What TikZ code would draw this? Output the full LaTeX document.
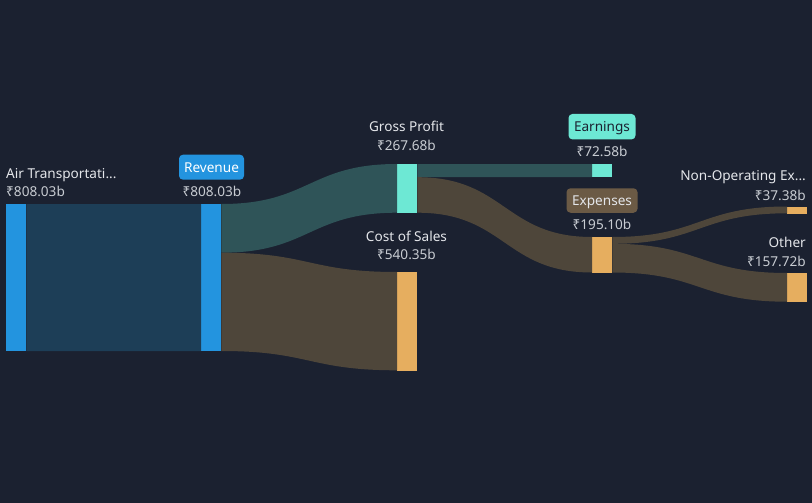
\documentclass[tikz,border=0pt]{standalone}
\usepackage{fontspec}
\setmainfont{Noto Sans}
\usetikzlibrary{positioning,calc}

\definecolor{bg}{HTML}{1B2130}
\definecolor{barblue}{HTML}{2394DF}
\definecolor{barteal}{HTML}{6DE8D4}
\definecolor{barorange}{HTML}{E6AE5F}
\definecolor{flowblue}{HTML}{1D3E57}
\definecolor{flowgreen}{HTML}{2F5458}
\definecolor{flowbrown}{HTML}{4E463A}
\definecolor{tagbrown}{HTML}{6B5A45}
\definecolor{nametxt}{HTML}{E4E6EA}
\definecolor{valtxt}{HTML}{C8CCD2}

% band from top point #1 to top point #2, #3 pt thick
\newcommand{\sankeyflow}[4]{%
  \fill[#4] let \p1=#1, \p2=#2 in
    (\p1) .. controls ({(\x1+\x2)/2},\y1) and ({(\x1+\x2)/2},\y2) .. (\p2)
    -- (\x2,\y2-#3pt) .. controls ({(\x1+\x2)/2},\y2-#3pt) and ({(\x1+\x2)/2},\y1-#3pt) .. (\x1,\y1-#3pt) -- cycle;}

\begin{document}
\begin{tikzpicture}[x=1pt,y=-1pt,
    bar/.style={inner sep=0pt,minimum width=20pt,anchor=north west},
    lbl/.style={text=nametxt,font=\fontsize{13.6}{15}\selectfont,inner sep=0pt,text height=9.6pt,text depth=0pt},
    val/.style={lbl,text=valtxt},
    tag/.style={lbl,rounded corners=4pt,minimum height=25pt}]
  \fill[bg] (0,0) rectangle (812,503);

  % bars
  \node[bar,fill=barblue,minimum height=147pt] (air) at (6,204) {};
  \node[bar,fill=barblue,minimum height=147pt] (rev) at (201,204) {};
  \node[bar,fill=barteal,minimum height=48.7pt] (gp) at (397,164) {};
  \node[bar,fill=barorange,minimum height=98.3pt] (cos) at (397,272) {};
  \node[bar,fill=barteal,minimum height=13.2pt] (earn) at (592,164) {};
  \node[bar,fill=barorange,minimum height=35.5pt] (exp) at (592,237) {};
  \node[bar,fill=barorange,minimum height=6.8pt] (nonop) at (787,206.5) {};
  \node[bar,fill=barorange,minimum height=28.7pt] (oth) at (787,273) {};

  % flows
  \sankeyflow{(air.north east)}{(rev.north west)}{147}{flowblue}
  \sankeyflow{(rev.north east)}{(gp.north west)}{48.7}{flowgreen}
  \sankeyflow{($(rev.north east)+(0,48.7)$)}{(cos.north west)}{98.3}{flowbrown}
  \sankeyflow{(gp.north east)}{(earn.north west)}{13.2}{flowgreen}
  \sankeyflow{($(gp.north east)+(0,13.2)$)}{(exp.north west)}{35.5}{flowbrown}
  \sankeyflow{(exp.north east)}{(nonop.north west)}{6.8}{flowbrown}
  \sankeyflow{($(exp.north east)+(0,6.8)$)}{(oth.north west)}{28.7}{flowbrown}

  % labels
  \node[lbl,anchor=west] (airname) at (6,173.3) {Air Transportati...};
  \node[val,anchor=west] (airval) at (6,191.7) {₹808.03b};
  \node[tag,fill=barblue,text=white,minimum width=65pt] (revtag) at (211.5,167.2) {Revenue};
  \node[val,anchor=east] (revval) at (241.5,191.7) {₹808.03b};
  \node[lbl] (gpname) at (406.5,127) {Gross Profit};
  \node[val] (gpval) at (406.5,145.7) {₹267.68b};
  \node[lbl] (cosname) at (406.5,236.5) {Cost of Sales};
  \node[val] (cosval) at (406.5,255) {₹540.35b};
  \node[tag,fill=barteal,text=bg,minimum width=67pt,minimum height=25.5pt] (earntag) at (602,126.7) {Earnings};
  \node[val] (earnval) at (602,152) {₹72.58b};
  \node[tag,fill=tagbrown,minimum width=71pt,minimum height=24.5pt] (exptag) at (602,200.5) {Expenses};
  \node[val] (expval) at (602,224.7) {₹195.10b};
  \node[lbl,anchor=east] (nonopname) at (806,176) {Non-Operating Ex...};
  \node[val,anchor=east] (nonopval) at (806,195.3) {₹37.38b};
  \node[lbl,anchor=east] (othname) at (806,242.7) {Other};
  \node[val,anchor=east] (othval) at (806,261.3) {₹157.72b};
\end{tikzpicture}
\end{document}
